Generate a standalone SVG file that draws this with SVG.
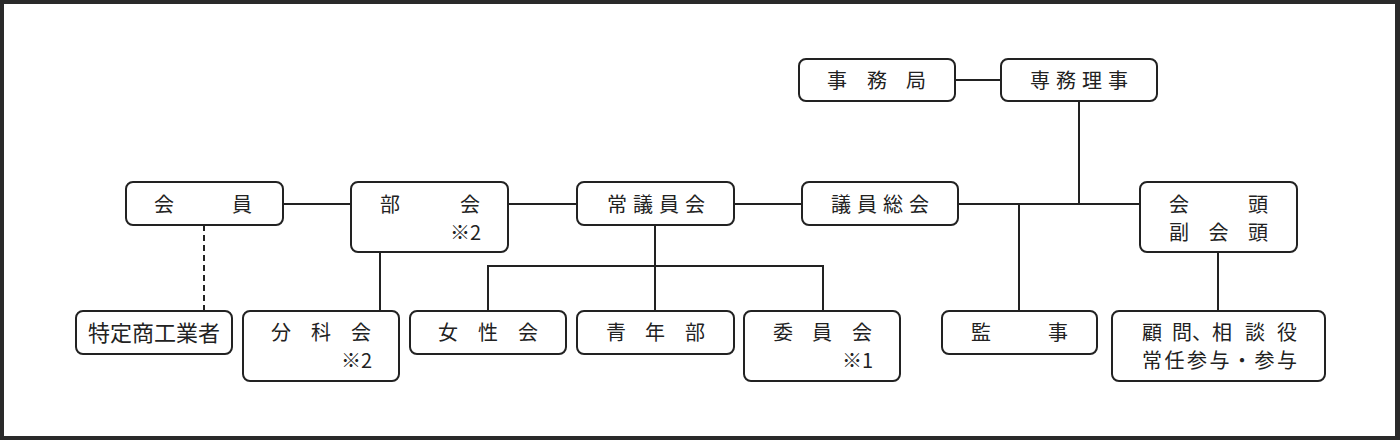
<svg xmlns="http://www.w3.org/2000/svg" width="1400" height="440" viewBox="0 0 1400 440">
<style>
.box{fill:#fff;stroke:#222;stroke-width:2}
.t{font-family:"Noto Sans CJK JP","Noto Sans",sans-serif;font-size:20px;fill:#222;text-anchor:middle}
.e{text-anchor:end}
.s{text-anchor:start}
.ln{stroke:#222;stroke-width:2;fill:none}
.dash{stroke-dasharray:6 4}
</style>
<rect x="0" y="0" width="1400" height="440" fill="#2a2a2a"/>
<rect x="4" y="4" width="1391" height="432" fill="#fff"/>
<g id="connectors">
<path class="ln" d="M955 80H1001"/>
<path class="ln" d="M1079 101V204"/>
<path class="ln" d="M283 204H351M508 204H577M734 204H802M958 204H1140"/>
<path class="ln" d="M1019 204V311"/>
<path class="ln" d="M1218 252V311"/>
<path class="ln" d="M380 252V311"/>
<path class="ln dash" d="M204 225V311"/>
<path class="ln" d="M655 225V311M488 311V266H823V311"/>
</g>
<g id="jimukyoku"><rect class="box" x="799" y="59" width="156" height="42" rx="7"/><text class="t" x="837 877 916" y="87.5">事務局</text></g>
<g id="senmuriji"><rect class="box" x="1001" y="59" width="156" height="42" rx="7"/><text class="t" x="1040 1066 1092 1118" y="87.5">専務理事</text></g>
<g id="kaiin"><rect class="box" x="126" y="182" width="157" height="43" rx="7"/><text class="t" x="164 242" y="211.5">会員</text></g>
<g id="bukai"><rect class="box" x="351" y="182" width="157" height="70" rx="7"/><text class="t" x="390 470" y="211.5">部会</text><text class="t e" x="481" y="239.5">※2</text></g>
<g id="jogiinkai"><rect class="box" x="577" y="182" width="157" height="43" rx="7"/><text class="t" x="617 643 669 695" y="211.5">常議員会</text></g>
<g id="giinsokai"><rect class="box" x="802" y="182" width="156" height="43" rx="7"/><text class="t" x="841 867 893 919" y="211.5">議員総会</text></g>
<g id="kaito"><rect class="box" x="1140" y="182" width="157" height="70" rx="7"/><text class="t" x="1179 1258" y="211.5">会頭</text><text class="t" x="1179 1218.5 1258" y="239.5">副会頭</text></g>
<g id="tokutei"><rect class="box" x="76" y="311" width="156" height="43" rx="7"/><text class="t" x="154" y="341" style="font-size:22px">特定商工業者</text></g>
<g id="bunkakai"><rect class="box" x="243" y="311" width="156" height="70" rx="7"/><text class="t" x="281 321 361" y="340">分科会</text><text class="t e" x="372" y="368">※2</text></g>
<g id="joseikai"><rect class="box" x="410" y="311" width="156" height="43" rx="7"/><text class="t" x="448 488 528" y="340">女性会</text></g>
<g id="seinenbu"><rect class="box" x="577" y="311" width="157" height="43" rx="7"/><text class="t" x="616 655 695" y="340">青年部</text></g>
<g id="iinkai"><rect class="box" x="744" y="311" width="156" height="70" rx="7"/><text class="t" x="783 822 862" y="340">委員会</text><text class="t e" x="873" y="368">※1</text></g>
<g id="kanji"><rect class="box" x="942" y="311" width="155" height="43" rx="7"/><text class="t" x="981 1058" y="340">監事</text></g>
<g id="komon"><rect class="box" x="1112" y="311" width="213" height="70" rx="7"/><text class="t" x="1152 1182 1202 1222 1255 1287" y="340">顧問、相談役</text><text class="t s" x="1142" y="368" style="letter-spacing:2.5px">常任参与・参与</text></g>
</svg>
